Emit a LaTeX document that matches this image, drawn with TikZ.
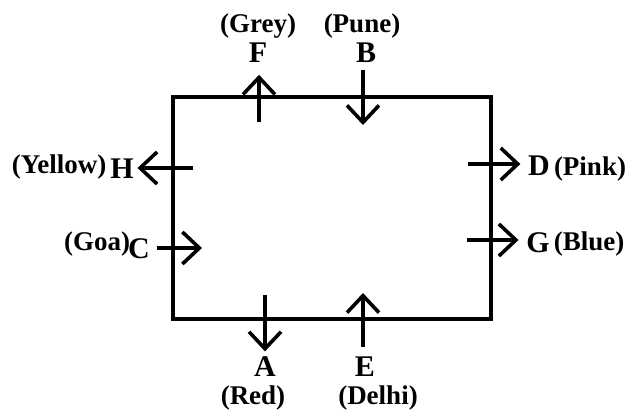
\documentclass[tikz,border=0pt]{standalone}
\usepackage{fontspec}
\setmainfont{Liberation Serif}
\usetikzlibrary{arrows.meta}

\begin{document}
\begin{tikzpicture}[x=1pt,y=-1pt,line width=3.6pt,
	arr/.style={-{Straight Barb[length=17pt,width=32pt]}},
	letter/.style={anchor=base,inner sep=0pt,font=\fontsize{30}{30}\selectfont\bfseries},
	tag/.style={anchor=base,inner sep=0pt,font=\fontsize{27}{27}\selectfont\bfseries}]
	\useasboundingbox (0,0) rectangle (629,410);

	% the box
	\draw (173,97) rectangle (491,319);

	% the letters
	\node[letter] (F) at (258,62) {F};
	\node[letter] (B) at (366,62) {B};
	\node[letter] (H) at (122,178) {H};
	\node[letter] (C) at (139,258) {C};
	\node[letter] (D) at (539,175) {D};
	\node[letter] (G) at (538,252) {G};
	\node[letter] (A) at (265,376) {A};
	\node[letter] (E) at (365,376) {E};

	% the names in brackets
	\node[tag] (grey)   at (258,32)  {(Grey)};
	\node[tag] (pune)   at (362,32)  {(Pune)};
	\node[tag] (yellow) at (59,173)  {(Yellow)};
	\node[tag] (goa)    at (97,250)  {(Goa)};
	\node[tag] (pink)   at (590,175) {(Pink)};
	\node[tag] (blue)   at (589,250) {(Blue)};
	\node[tag] (red)    at (253,404) {(Red)};
	\node[tag] (delhi)  at (378,404) {(Delhi)};

	% the free ends of the arrows
	\coordinate (ftail) at (259,122);
	\coordinate (btip)  at (363,125);
	\coordinate (htail) at (193,168);
	\coordinate (ctip)  at (202,248);
	\coordinate (dtail) at (468,164);
	\coordinate (gtail) at (467,240);
	\coordinate (atail) at (265,295);
	\coordinate (etip)  at (363,293);

	% the arrows
	\draw[arr,shorten >=11pt] (ftail) -- (ftail |- F.south);
	\draw[arr,shorten <=6pt]  (btip |- B.south) -- (btip);
	\draw[arr,shorten >=2pt]  (htail) -- (htail -| H.east);
	\draw[arr,shorten <=5pt]  (ctip -| C.east) -- (ctip);
	\draw[arr,shorten >=6pt]  (dtail) -- (dtail -| D.west);
	\draw[arr,shorten >=6pt]  (gtail) -- (gtail -| G.west);
	\draw[arr,shorten >=3pt]  (atail) -- (atail |- A.north);
	\draw[arr,shorten <=8pt]  (etip |- E.north) -- (etip);
\end{tikzpicture}
\end{document}
